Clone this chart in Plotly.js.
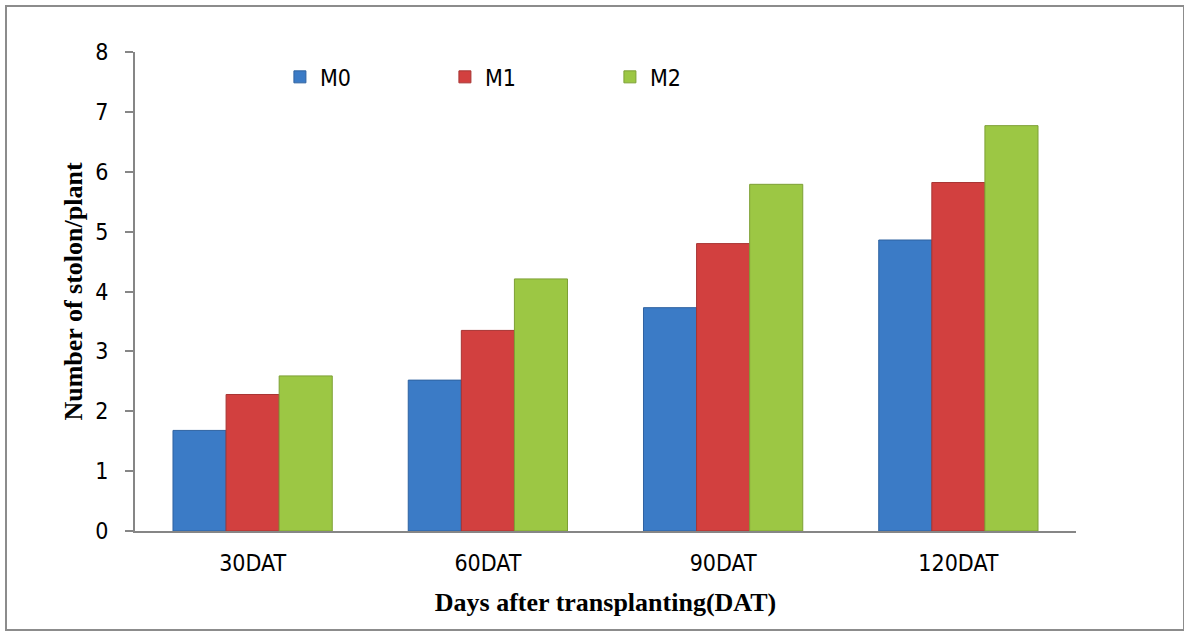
<!DOCTYPE html>
<html>
<head>
<meta charset="utf-8">
<script src="https://cdn.plot.ly/plotly-3.0.1.min.js"></script>
<style>
  html, body { margin: 0; padding: 0; background: #fff; }
  #wrap { position: relative; width: 1184px; height: 632px; }
  #chart { width: 1184px; height: 632px; }
  #frame { position: absolute; left: 5px; top: 5px; width: 1176px; height: 622px;
           border: 2px solid #8c8c8c; pointer-events: none; }
</style>
</head>
<body>
<div id="wrap">
  <div id="chart"></div>
  <div id="frame"></div>
</div>
<script>
// Stolon counts per plant at each sampling date
const categories = ['30DAT', '60DAT', '90DAT', '120DAT'];
const seriesNames = ['M0', 'M1', 'M2'];
const m0 = [1.68, 2.52, 3.73, 4.86];
const m1 = [2.28, 3.35, 4.80, 5.82];
const m2 = [2.59, 4.21, 5.79, 6.77];
const yTicks = [0, 1, 2, 3, 4, 5, 6, 7, 8];

const fills = ['#3b7bc6', '#d2403f', '#9cc744'];
const edges = ['#2f62a0', '#a83433', '#7da035'];
const values = [m0, m1, m2];

const traces = values.map((v, i) => ({
  type: 'bar',
  name: seriesNames[i],
  x: categories,
  y: v,
  marker: { color: fills[i], line: { color: edges[i], width: 1 } },
  hoverinfo: 'x+y+name'
}));

const tickFont = { family: '"DejaVu Sans Condensed", "Liberation Sans Narrow", "Open Sans", sans-serif', size: 23, color: '#000' };
const titleFont = { family: '"Liberation Serif", "Times New Roman", serif', size: 26, color: '#000', weight: 'bold' };

const layout = {
  width: 1184,
  height: 632,
  margin: { l: 135, r: 108, t: 52, b: 101 },
  paper_bgcolor: '#fff',
  plot_bgcolor: '#fff',
  barmode: 'group',
  bargap: 0.323,
  bargroupgap: 0,
  showlegend: true,
  legend: {
    orientation: 'h',
    x: 0.154, y: 0.948, xanchor: 'left', yanchor: 'middle',
    font: tickFont,
    itemwidth: 30,
    entrywidth: 120,
    entrywidthmode: 'pixels',
    bgcolor: 'rgba(0,0,0,0)'
  },
  xaxis: {
    type: 'category',
    showline: true, linecolor: '#868686', linewidth: 2,
    ticks: '', showgrid: false, zeroline: false,
    tickfont: tickFont,
    ticklabelstandoff: 10,
    title: { text: 'Days after transplanting(DAT)', font: titleFont, standoff: 18 },
    automargin: false
  },
  yaxis: {
    range: [0, 8],
    tickvals: yTicks,
    ticktext: yTicks.map(String),
    showline: true, linecolor: '#868686', linewidth: 2,
    ticks: 'outside', ticklen: 8, tickcolor: '#868686', tickwidth: 2,
    showgrid: false, zeroline: false,
    tickfont: tickFont,
    ticklabelstandoff: 12,
    title: { text: 'Number of stolon/plant', font: titleFont, standoff: 5 },
    automargin: false
  }
};

Plotly.newPlot('chart', traces, layout, { displayModeBar: false, staticPlot: true });
</script>
</body>
</html>
